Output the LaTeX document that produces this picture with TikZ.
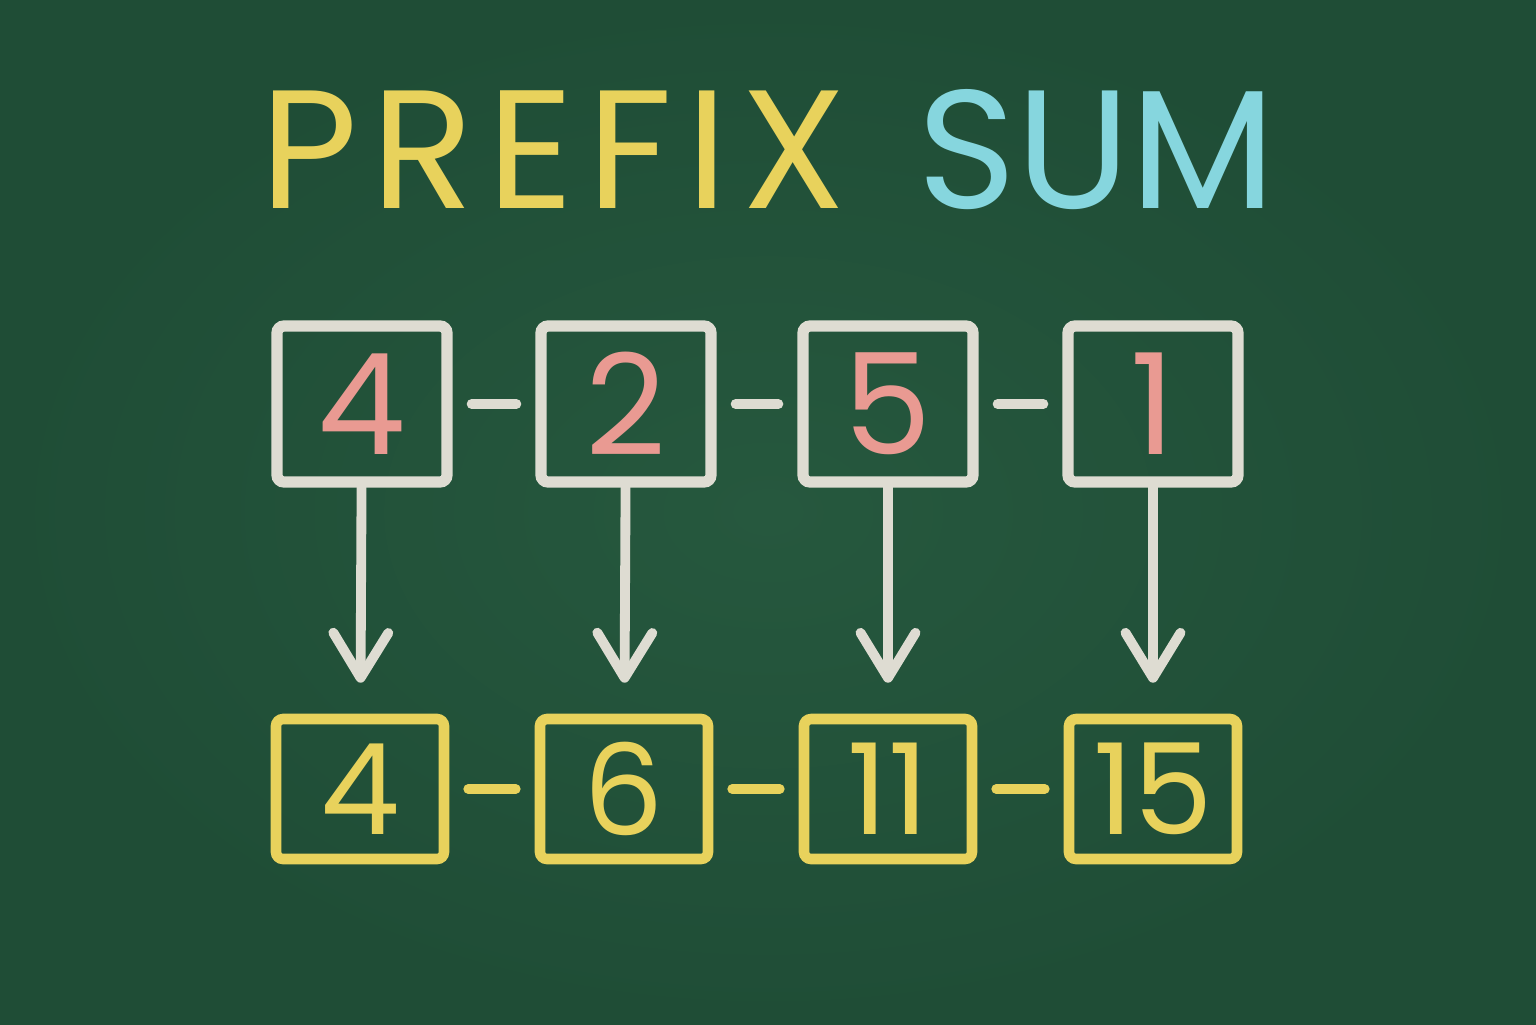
\documentclass[tikz,border=0pt]{standalone}
\usepackage{fontspec}
\setmainfont{Poppins}
\newfontfamily\titlefont[LetterSpace=8]{Poppins}
\usepackage{xcolor}
\usepackage{tikz}
\usetikzlibrary{arrows.meta, positioning}
\definecolor{board}{RGB}{31,77,54}
\definecolor{boardlight}{RGB}{38,88,62}
\definecolor{chalkwhite}{RGB}{222,220,210}
\definecolor{chalkyellow}{RGB}{232,210,92}
\definecolor{chalkcyan}{RGB}{134,214,222}
\definecolor{chalkpink}{RGB}{233,154,146}

\begin{document}
\begin{tikzpicture}[
    x=1cm, y=1cm,
    inbox/.style={draw=chalkwhite, line width=3.2pt, rounded corners=2pt, minimum width=1.70cm, minimum height=1.56cm, inner sep=0pt, text=chalkpink, font=\fontsize{40}{40}\selectfont},
    outbox/.style={draw=chalkyellow, line width=3pt, rounded corners=2pt, minimum width=1.68cm, minimum height=1.40cm, inner sep=0pt, text=chalkyellow, font=\fontsize{36}{36}\selectfont},
    link/.style={line width=2.8pt, line cap=round, shorten <=0.19cm, shorten >=0.19cm},
    down/.style={draw=chalkwhite, line width=2.8pt, line cap=round, shorten >=0.31cm, -{Straight Barb[length=4.5mm, width=5.5mm, line cap=round, line join=round]}},
]
    \shade[inner color=boardlight, outer color=board] (0,0) rectangle (15.36,-10.24);
    \useasboundingbox (0,0) rectangle (15.36,-10.24);

    % title
    \node[text=chalkyellow, font=\titlefont\fontsize{48}{48}\selectfont] (wprefix) at (5.53,-1.50) {PREFIX};
    \node[text=chalkcyan, font=\fontsize{48}{48}\selectfont] (wsum) at (10.97,-1.50) {SUM};

    % input array
    \node[inbox] (a1) at (3.62,-4.04) {4};
    \node[inbox] (a2) at (6.26,-4.04) {2};
    \node[inbox] (a3) at (8.88,-4.04) {5};
    \node[inbox] (a4) at (11.53,-4.04) {1};

    % prefix sums
    \node[outbox] (s1) at (3.60,-7.89) {4};
    \node[outbox] (s2) at (6.24,-7.89) {6};
    \node[outbox] (s3) at (8.88,-7.89) {11};
    \node[outbox] (s4) at (11.53,-7.89) {15};

    \draw[link, chalkwhite] (a1) -- (a2);
    \draw[link, chalkwhite] (a2) -- (a3);
    \draw[link, chalkwhite] (a3) -- (a4);
    \draw[link, chalkyellow] (s1) -- (s2);
    \draw[link, chalkyellow] (s2) -- (s3);
    \draw[link, chalkyellow] (s3) -- (s4);

    \foreach \i in {1,...,4}
        \draw[down] (a\i) -- (s\i);
\end{tikzpicture}
\end{document}
